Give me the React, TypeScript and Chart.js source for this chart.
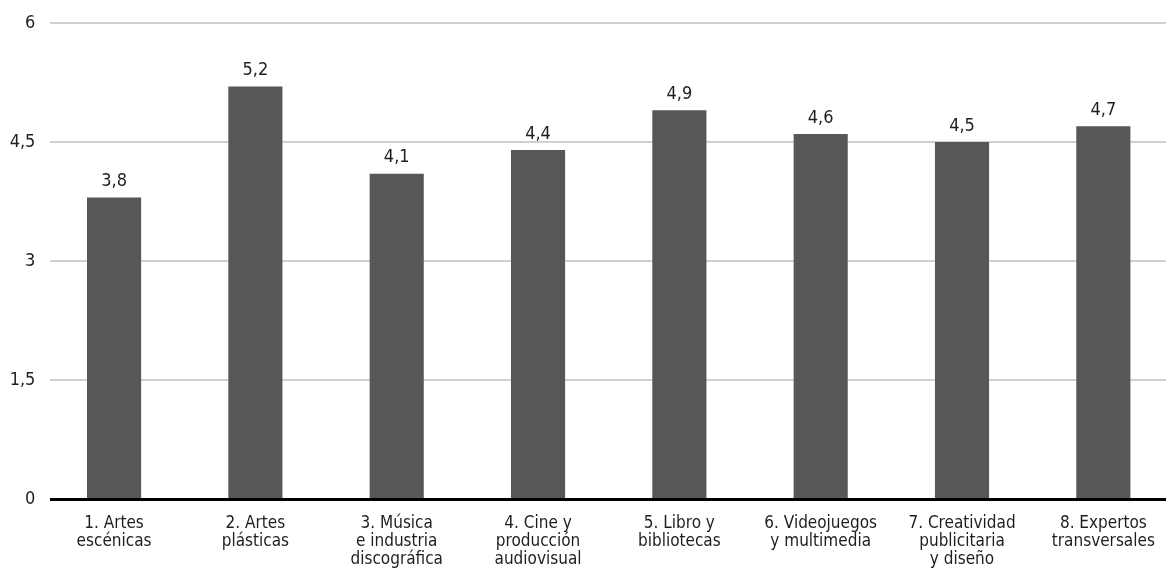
import React, { useEffect, useRef } from "react";
import { Chart, registerables } from "chart.js";

Chart.register(...registerables);

const categories: string[][] = [
  ["1. Artes", "escénicas"],
  ["2. Artes", "plásticas"],
  ["3. Música", "e industria", "discográfica"],
  ["4. Cine y", "producción", "audiovisual"],
  ["5. Libro y", "bibliotecas"],
  ["6. Videojuegos", "y multimedia"],
  ["7. Creatividad", "publicitaria", "y diseño"],
  ["8. Expertos", "transversales"],
];
const values: number[] = [3.8, 5.2, 4.1, 4.4, 4.9, 4.6, 4.5, 4.7];
const yTicks: number[] = [0, 1.5, 3, 4.5, 6];

const FONT = "'Liberation Sans Narrow', 'DejaVu Sans Condensed', 'Roboto Condensed', Roboto, sans-serif";
const fmt = (v: number) => String(v).replace(".", ",");

export default function App() {
  const ref = useRef<HTMLCanvasElement | null>(null);
  useEffect(() => {
    if (!ref.current) return;
    const gridPlugin = {
      id: "gridPlugin",
      beforeDatasetsDraw(chart: any) {
        const { ctx, scales } = chart;
        ctx.save();
        ctx.strokeStyle = "#c0c0c0";
        ctx.lineWidth = 1.5;
        yTicks.forEach((t) => {
          if (t === 0) return;
          const y = scales.y.getPixelForValue(t);
          ctx.beginPath();
          ctx.moveTo(50, y);
          ctx.lineTo(chart.width, y);
          ctx.stroke();
        });
        ctx.restore();
      },
      afterDatasetsDraw(chart: any) {
        const { ctx, scales } = chart;
        ctx.save();
        const y0 = scales.y.getPixelForValue(0);
        ctx.strokeStyle = "#000";
        ctx.lineWidth = 3;
        ctx.beginPath();
        ctx.moveTo(50, y0 + 0.5);
        ctx.lineTo(chart.width, y0 + 0.5);
        ctx.stroke();
        ctx.fillStyle = "#1e1e1e";
        ctx.font = `18px ${FONT}`;
        ctx.textAlign = "center";
        ctx.textBaseline = "bottom";
        const meta = chart.getDatasetMeta(0);
        meta.data.forEach((bar: any, i: number) => {
          ctx.fillText(fmt(values[i]), bar.x, bar.y - 7);
        });
        ctx.restore();
      },
    };
    const chart = new Chart(ref.current, {
      type: "bar",
      data: {
        labels: categories,
        datasets: [
          {
            data: values,
            backgroundColor: "#575756",
            barPercentage: 0.383,
            categoryPercentage: 1,
          },
        ],
      },
      options: {
        animation: false,
        responsive: false,
        maintainAspectRatio: false,
        layout: { padding: { top: 23, right: 6, left: 0, bottom: 0 } },
        plugins: { legend: { display: false }, tooltip: { enabled: false } },
        scales: {
          x: {
            grid: { display: false },
            border: { display: false },
            ticks: {
              autoSkip: false,
              maxRotation: 0,
              minRotation: 0,
              color: "#1e1e1e",
              padding: 8,
              font: { family: FONT, size: 17, lineHeight: 1.06 },
            },
            afterFit(scale: any) {
              scale.height = 76;
            },
          },
          y: {
            min: 0,
            max: 6,
            afterBuildTicks(scale: any) {
              scale.ticks = yTicks.map((v) => ({ value: v }));
            },
            grid: { display: false, drawTicks: false },
            border: { display: false },
            ticks: {
              color: "#1e1e1e",
              padding: 8,
              font: { family: FONT, size: 18 },
              callback: (v: any) => fmt(Number(v)),
            },
            afterFit(scale: any) {
              scale.width = 43.4;
            },
          },
        },
      },
      plugins: [gridPlugin],
    });
    return () => chart.destroy();
  }, []);
  return (
    <div style={{ position: "fixed", left: 0, top: 0, width: 1166, height: 575, overflow: "hidden", background: "#fff" }}>
      <canvas ref={ref} width={1180} height={575} style={{ width: 1180, height: 575, display: "block" }} />
    </div>
  );
}
